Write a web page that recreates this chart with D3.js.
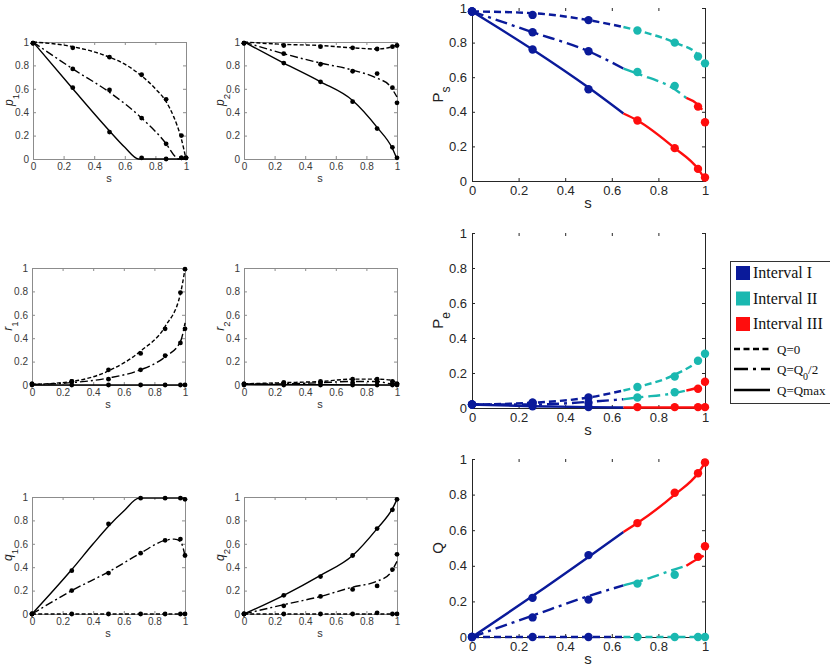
<!DOCTYPE html>
<html>
<head>
<meta charset="utf-8">
<script src="https://cdn.jsdelivr.net/npm/d3@7"></script>
<style>
  body { margin: 0; background: #fff; }
  .serif { font-family: "Liberation Serif", "Times New Roman", serif; }
</style>
</head>
<body>
<svg id="fig" width="830" height="668"></svg>
<script>
// s where the simulated points sit
const sMarks = [0, 0.26, 0.5, 0.71, 0.87, 0.97, 1]
const tickVals = [0, 0.2, 0.4, 0.6, 0.8, 1]
const tickLabels = ["0", "0.2", "0.4", "0.6", "0.8", "1"]

// ---- left column, model curves [s, value] and simulated points
const p1Zero = [[0, 1], [0.26, 0.96], [0.5, 0.87], [0.6, 0.81], [0.71, 0.71], [0.8, 0.6], [0.87, 0.49], [0.92, 0.36], [0.97, 0.17], [1, 0]]
const p1Half = [[0, 1], [0.26, 0.77], [0.5, 0.57], [0.71, 0.35], [0.87, 0.13], [0.93, 0.02], [0.95, 0], [1, 0]]
const p1Max = [[0, 1], [0.26, 0.6], [0.5, 0.24], [0.6, 0.1], [0.69, 0], [1, 0]]
const p1ZeroPts = [0.99, 0.95, 0.87, 0.72, 0.51, 0.2, 0.01]
const p1HalfPts = [0.99, 0.77, 0.59, 0.35, 0.13, 0.01, 0.01]
const p1MaxPts = [0.99, 0.61, 0.23, 0.01, 0, 0.01, 0.01]

const p2Zero = [[0, 1], [0.26, 0.98], [0.5, 0.97], [0.71, 0.95], [0.87, 0.94], [0.97, 0.96], [1, 0.98]]
const p2Half = [[0, 1], [0.26, 0.9], [0.5, 0.82], [0.71, 0.76], [0.87, 0.69], [0.95, 0.63], [1, 0.53]]
const p2Max = [[0, 1], [0.26, 0.82], [0.5, 0.66], [0.71, 0.5], [0.87, 0.27], [0.97, 0.09], [1, 0]]
const p2ZeroPts = [0.99, 0.97, 0.96, 0.95, 0.94, 0.96, 0.97]
const p2HalfPts = [0.99, 0.9, 0.81, 0.75, 0.73, 0.61, 0.48]
const p2MaxPts = [0.99, 0.82, 0.66, 0.49, 0.26, 0.1, 0.01]

const r1Zero = [[0, 0.005], [0.26, 0.03], [0.5, 0.12], [0.71, 0.29], [0.87, 0.5], [0.97, 0.78], [1, 0.99]]
const r1Half = [[0, 0.005], [0.26, 0.02], [0.5, 0.06], [0.71, 0.13], [0.87, 0.24], [0.97, 0.37], [1, 0.53]]
const r1Max = [[0, 0], [1, 0]]
const r1ZeroPts = [0.01, 0.03, 0.13, 0.27, 0.48, 0.79, 0.99]
const r1HalfPts = [0.01, 0.03, 0.05, 0.13, 0.25, 0.36, 0.48]
const r1MaxPts = [0, 0, 0, 0, 0, 0, 0]

const r2Zero = [[0, 0.01], [0.26, 0.02], [0.5, 0.03], [0.71, 0.05], [0.87, 0.05], [0.97, 0.04], [1, 0.01]]
const r2Half = [[0, 0.01], [0.26, 0.01], [0.5, 0.02], [0.71, 0.03], [0.87, 0.03], [0.97, 0.01], [1, 0.01]]
const r2Max = [[0, 0.005], [1, 0]]
const r2ZeroPts = [0.01, 0.02, 0.03, 0.05, 0.05, 0.03, 0.01]
const r2HalfPts = [0.01, 0.02, 0.02, 0.02, 0.03, 0.01, 0.01]
const r2MaxPts = [0, 0, 0, 0, 0, 0, 0]

const q1Zero = [[0, 0], [1, 0]]
const q1Half = [[0, 0], [0.26, 0.2], [0.5, 0.36], [0.71, 0.52], [0.87, 0.63], [0.93, 0.64], [0.97, 0.62], [1, 0.5]]
const q1Max = [[0, 0], [0.26, 0.38], [0.4, 0.6], [0.5, 0.75], [0.6, 0.88], [0.7, 0.99], [0.85, 0.99], [1, 0.99]]
const q1ZeroPts = [0, 0, 0, 0, 0, 0, 0]
const q1HalfPts = [0, 0.2, 0.35, 0.52, 0.63, 0.64, 0.5]
const q1MaxPts = [0, 0.37, 0.77, 0.99, 0.99, 0.99, 0.98]

const q2Zero = [[0, 0], [1, 0]]
const q2Half = [[0, 0], [0.26, 0.08], [0.5, 0.15], [0.71, 0.23], [0.87, 0.28], [0.95, 0.34], [1, 0.45]]
const q2Max = [[0, 0], [0.26, 0.16], [0.5, 0.33], [0.71, 0.5], [0.87, 0.73], [0.97, 0.9], [1, 0.98]]
const q2ZeroPts = [0, 0, 0, 0, 0.01, 0, 0]
const q2HalfPts = [0, 0.07, 0.15, 0.21, 0.24, 0.38, 0.51]
const q2MaxPts = [0, 0.16, 0.32, 0.5, 0.73, 0.89, 0.98]

// ---- right column: where Interval I ends and Interval II ends, per Q setting
const bndZero = [0.65, 1]
const bndHalf = [0.65, 0.92]
const bndMax = [0.65, 0.65]

const psZero = [[0, 0.98], [0.26, 0.97], [0.5, 0.93], [0.65, 0.89], [0.71, 0.87], [0.87, 0.8], [0.97, 0.73], [1, 0.68]]
const psHalf = [[0, 0.98], [0.26, 0.86], [0.5, 0.75], [0.65, 0.65], [0.71, 0.62], [0.87, 0.53], [0.92, 0.48], [0.97, 0.44], [1, 0.39]]
const psMax = [[0, 0.98], [0.26, 0.76], [0.5, 0.54], [0.65, 0.39], [0.71, 0.35], [0.87, 0.19], [0.97, 0.07], [1, 0.01]]
const psZeroPts = [0.98, 0.96, 0.93, 0.87, 0.8, 0.72, 0.68]
const psHalfPts = [0.98, 0.86, 0.75, 0.63, 0.55, 0.43, 0.34]
const psMaxPts = [0.98, 0.76, 0.53, 0.35, 0.19, 0.07, 0.02]

const peZero = [[0, 0.02], [0.26, 0.03], [0.5, 0.06], [0.65, 0.1], [0.71, 0.12], [0.87, 0.19], [0.97, 0.27], [1, 0.31]]
const peHalf = [[0, 0.02], [0.26, 0.02], [0.5, 0.035], [0.65, 0.05], [0.71, 0.06], [0.87, 0.085], [0.92, 0.1], [0.97, 0.12], [1, 0.15]]
const peMax = [[0, 0.02], [0.26, 0.01], [0.5, 0.005], [0.65, 0.003], [1, 0.003]]
const peZeroPts = [0.02, 0.03, 0.06, 0.12, 0.18, 0.27, 0.31]
const peHalfPts = [0.02, 0.03, 0.03, 0.06, 0.09, 0.11, 0.15]
const peMaxPts = [0.02, 0.01, 0.005, 0.005, 0.005, 0.005, 0.005]

const qZero = [[0, 0], [0.65, 0], [1, 0]]
const qHalf = [[0, 0], [0.26, 0.12], [0.5, 0.23], [0.65, 0.29], [0.71, 0.31], [0.87, 0.38], [0.92, 0.4], [0.97, 0.44], [1, 0.46]]
const qMax = [[0, 0], [0.26, 0.23], [0.5, 0.45], [0.65, 0.59], [0.71, 0.64], [0.87, 0.8], [0.97, 0.92], [1, 0.98]]
const qZeroPts = [0, 0, 0, 0, 0, 0, 0]
const qHalfPts = [0, 0.11, 0.21, 0.3, 0.35, 0.45, 0.51]
const qMaxPts = [0, 0.22, 0.46, 0.64, 0.81, 0.92, 0.98]

const intervalNames = ["Interval I", "Interval II", "Interval III"]
const intervalColors = ["#0a1a9a", "#1ab8b0", "#ff0d0d"]

const svg = d3.select("#fig")
const line = d3.line().curve(d3.curveMonotoneX)
const fmt = d => tickLabels[tickVals.indexOf(d)]

function axes(g, x, y, o) {
  const xb = y.range()[0], yt = y.range()[1]
  const xl = x.range()[0], xr = x.range()[1]
  const style = sel => sel.attr("font-family", "Liberation Sans, Arial, sans-serif")
    .attr("font-size", o.font)
    .call(s => s.selectAll("line").attr("stroke", o.stroke))
    .call(s => s.selectAll("text").attr("fill", o.text))
    .call(s => s.select(".domain").attr("stroke", o.stroke))
  g.append("g").attr("transform", `translate(0,${xb})`)
    .call(d3.axisBottom(x).tickValues(tickVals).tickFormat(fmt).tickSize(-o.tick).tickPadding(o.pad)).call(style)
  g.append("g").attr("transform", `translate(${xl},0)`)
    .call(d3.axisLeft(y).tickValues(tickVals).tickFormat(fmt).tickSize(-o.tick).tickPadding(o.pad)).call(style)
  g.append("g").attr("transform", `translate(${xr},0)`)
    .call(d3.axisRight(y).tickValues(tickVals).tickFormat("").tickSize(-o.tick)).call(style)
  const top = g.append("g").attr("transform", `translate(0,${yt})`)
    .call(d3.axisTop(x).tickValues(tickVals).tickFormat("").tickSize(-o.tick)).call(style)
  if (!o.box) top.select(".domain").remove()
}

function yLabel(g, x, y, main, sub, size, italic) {
  const t = g.append("text")
    .attr("transform", `translate(${x},${y}) rotate(-90)`)
    .attr("text-anchor", "middle")
    .attr("font-family", "Liberation Sans, Arial, sans-serif")
    .attr("font-size", size)
    .attr("fill", "#222")
  t.append("tspan").attr("font-style", italic ? "italic" : "normal").text(main)
  if (sub) t.append("tspan").attr("baseline-shift", "sub").attr("font-size", size * 0.8).text(sub)
}

const leftDash = ["4,2.2", "8,3,2,3", null]
const rightDash = ["7,4", "12,5,3,5", null]

function leftPanel(cfg) {
  const x = d3.scaleLinear().domain([0, 1]).range([cfg.x, cfg.x + 153])
  const y = d3.scaleLinear().domain([0, 1]).range([cfg.y + 117, cfg.y])
  const g = svg.append("g")
  axes(g, x, y, { font: 10, stroke: "#8c8c8c", text: "#3a3a3a", tick: 3, pad: 4, box: true })
  line.x(d => x(d[0])).y(d => y(d[1]))
  cfg.lines.forEach((ln, i) => {
    g.append("path").attr("d", line(ln)).attr("fill", "none")
      .attr("stroke", "#000").attr("stroke-width", 1.4)
      .attr("stroke-dasharray", leftDash[i])
  })
  cfg.pts.forEach(vals => {
    g.selectAll(null).data(vals).join("circle")
      .attr("cx", (d, j) => x(sMarks[j])).attr("cy", d => y(d))
      .attr("r", 2.4).attr("fill", "#000")
  })
  yLabel(g, cfg.x - 20, cfg.y + 58, cfg.label, cfg.sub, 12, true)
  g.append("text").attr("x", cfg.x + 76).attr("y", cfg.y + 140)
    .attr("text-anchor", "middle").attr("font-family", "Liberation Sans, Arial, sans-serif")
    .attr("font-size", 11).attr("fill", "#333").text("s")
}

function intervalOf(s, b) {
  if (s <= b[0] + 1e-9) return 0
  if (s <= b[1] + 1e-9) return 1
  return 2
}

function rightPanel(cfg) {
  const x = d3.scaleLinear().domain([0, 1]).range([472, 705])
  const y = d3.scaleLinear().domain([0, 1]).range([cfg.y1, cfg.y0])
  const g = svg.append("g")
  axes(g, x, y, { font: 13, stroke: "#262626", text: "#262626", tick: 3, pad: 5, box: false })
  line.x(d => x(d[0])).y(d => y(d[1]))
  cfg.lines.forEach((ln, i) => {
    const b = cfg.bnd[i]
    const cuts = [[0, b[0]], [b[0], b[1]], [b[1], 1]]
    cuts.forEach((c, k) => {
      const seg = ln.filter(p => p[0] >= c[0] - 1e-9 && p[0] <= c[1] + 1e-9)
      if (seg.length < 2 || c[1] - c[0] < 1e-6) return
      g.append("path").attr("d", line(seg)).attr("fill", "none")
        .attr("stroke", intervalColors[k]).attr("stroke-width", 2.4)
        .attr("stroke-dasharray", rightDash[i])
    })
  })
  cfg.pts.forEach((vals, i) => {
    g.selectAll(null).data(vals).join("circle")
      .attr("cx", (d, j) => x(sMarks[j])).attr("cy", d => y(d))
      .attr("r", 4.2).attr("fill", (d, j) => intervalColors[intervalOf(sMarks[j], cfg.bnd[i])])
  })
  yLabel(g, 443, (cfg.y0 + cfg.y1) / 2, cfg.label, cfg.sub, 15, false)
  g.append("text").attr("x", 588).attr("y", cfg.y1 + 27)
    .attr("text-anchor", "middle").attr("font-family", "Liberation Sans, Arial, sans-serif")
    .attr("font-size", 15).attr("fill", "#262626").text("s")
}

leftPanel({ x: 33, y: 42, label: "p", sub: "1", lines: [p1Zero, p1Half, p1Max], pts: [p1ZeroPts, p1HalfPts, p1MaxPts] })
leftPanel({ x: 244, y: 42, label: "p", sub: "2", lines: [p2Zero, p2Half, p2Max], pts: [p2ZeroPts, p2HalfPts, p2MaxPts] })
leftPanel({ x: 32, y: 268, label: "r", sub: "1", lines: [r1Zero, r1Half, r1Max], pts: [r1ZeroPts, r1HalfPts, r1MaxPts] })
leftPanel({ x: 244, y: 268, label: "r", sub: "2", lines: [r2Zero, r2Half, r2Max], pts: [r2ZeroPts, r2HalfPts, r2MaxPts] })
leftPanel({ x: 32, y: 497, label: "q", sub: "1", lines: [q1Zero, q1Half, q1Max], pts: [q1ZeroPts, q1HalfPts, q1MaxPts] })
leftPanel({ x: 244, y: 497, label: "q", sub: "2", lines: [q2Zero, q2Half, q2Max], pts: [q2ZeroPts, q2HalfPts, q2MaxPts] })

const bnds = [bndZero, bndHalf, bndMax]
rightPanel({ y0: 8, y1: 181, label: "P", sub: "s", bnd: bnds, lines: [psZero, psHalf, psMax], pts: [psZeroPts, psHalfPts, psMaxPts] })
rightPanel({ y0: 233, y1: 408, label: "P", sub: "e", bnd: bnds, lines: [peZero, peHalf, peMax], pts: [peZeroPts, peHalfPts, peMaxPts] })
rightPanel({ y0: 459, y1: 637, label: "Q", sub: null, bnd: bnds, lines: [qZero, qHalf, qMax], pts: [qZeroPts, qHalfPts, qMaxPts] })

// legend
const leg = svg.append("g")
leg.append("rect").attr("x", 730.5).attr("y", 261.5).attr("width", 110).attr("height", 142)
  .attr("fill", "#fff").attr("stroke", "#333")
intervalNames.forEach((n, i) => {
  leg.append("rect").attr("x", 736).attr("y", 266 + i * 25.5).attr("width", 14).attr("height", 14)
    .attr("fill", intervalColors[i])
  leg.append("text").attr("class", "serif").attr("x", 753).attr("y", 278 + i * 25.5)
    .attr("font-size", 16).attr("fill", "#111").text(n)
})
const legLines = [["Q=0", null], ["Q=Q", "0", "/2"], ["Q=Qmax", null]]
const legY = [349, 369, 390]
const legDash = ["6,3.5", "14,5,3,5", null]
legLines.forEach((l, i) => {
  leg.append("line").attr("x1", 734).attr("x2", 770).attr("y1", legY[i]).attr("y2", legY[i])
    .attr("stroke", "#000").attr("stroke-width", 2.4).attr("stroke-dasharray", legDash[i])
  const t = leg.append("text").attr("class", "serif").attr("x", 777).attr("y", legY[i] + 4.5)
    .attr("font-size", 13).attr("fill", "#111")
  t.append("tspan").text(l[0])
  if (l[1]) {
    t.append("tspan").attr("baseline-shift", "sub").attr("font-size", 10).text(l[1])
    t.append("tspan").text(l[2])
  }
})
</script>
</body>
</html>
